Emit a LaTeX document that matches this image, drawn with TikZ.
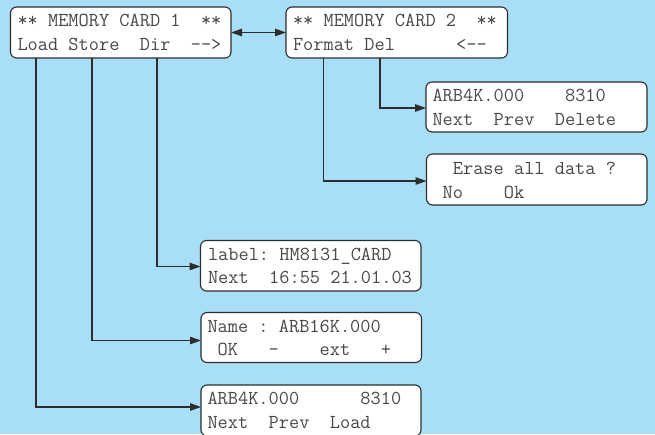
\documentclass[tikz,border=0pt]{standalone}
\usetikzlibrary{arrows.meta}
\definecolor{bgblue}{RGB}{168,222,248}
\definecolor{linecol}{RGB}{45,45,45}
\definecolor{txtcol}{RGB}{72,72,72}
\newcommand{\hy}{-\kern0pt}
\tikzset{
  box/.style={draw=linecol, line width=1.1pt, fill=white, rounded corners=6pt,
    inner sep=0pt, outer sep=0pt, anchor=north west, minimum width=220.5pt, minimum height=51pt},
  txt/.style={anchor=base west, inner sep=0pt, outer sep=0pt, text=txtcol,
    font=\fontsize{19.8}{23.3}\selectfont\ttfamily\frenchspacing},
  conn/.style={draw=linecol, line width=1.2pt, -{Triangle[length=11pt,width=7.5pt]}},
  dconn/.style={draw=linecol, line width=1.2pt, {Triangle[length=11pt,width=7.5pt]}-{Triangle[length=11pt,width=7.5pt]}}
}
\begin{document}
\begin{tikzpicture}[x=1pt,y=-1pt]
\clip (0,0) rectangle (655,434);
\fill[bgblue] (0,0) rectangle (655,434);
% boxes
\node[box] (b1) at (10.5,7) {};
\node[box, minimum width=221.5pt] (b2) at (286,7) {};
\node[box, minimum width=221pt, minimum height=50pt] (b3) at (426,82) {};
\node[box, minimum width=220.5pt] (b4) at (426.5,154) {};
\node[box, minimum width=220.5pt, minimum height=50.5pt] (b5) at (200.5,240.5) {};
\node[box, minimum height=50pt] (b6) at (201,312.5) {};
\node[box, minimum width=220pt] (b7) at (201,385) {};
% texts
\node[txt] (t1a) at ([xshift=7pt,yshift=-19.7pt]b1.north west) {**~MEMORY~CARD~1~~**};
\node[txt] (t1b) at ([xshift=7pt,yshift=-43pt]b1.north west) {Load~Store~~Dir~~\hy\hy>};
\node[txt] (t2a) at ([xshift=7pt,yshift=-19.7pt]b2.north west) {**~MEMORY~CARD~2~~**};
\node[txt] (t2b) at ([xshift=7pt,yshift=-43pt]b2.north west) {Format~Del~~~~~~<\hy\hy};
\node[txt] (t3a) at ([xshift=6.5pt,yshift=-19.7pt]b3.north west) {ARB4K.000~~~~8310};
\node[txt] (t3b) at ([xshift=6.5pt,yshift=-43pt]b3.north west) {Next~~Prev~~Delete};
\node[txt] (t4a) at ([xshift=6pt,yshift=-20.5pt]b4.north west) {~~Erase~all~data~?};
\node[txt] (t4b) at ([xshift=6pt,yshift=-44pt]b4.north west) {~No~~~~Ok};
\node[txt] (t5a) at ([xshift=7.5pt,yshift=-19.7pt]b5.north west) {label:~HM8131\_CARD};
\node[txt] (t5b) at ([xshift=7.5pt,yshift=-43pt]b5.north west) {Next~~16:55~21.01.03};
\node[txt] (t6a) at ([xshift=6.5pt,yshift=-19.7pt]b6.north west) {Name~:~ARB16K.000};
\node[txt] (t6b) at ([xshift=6.5pt,yshift=-43pt]b6.north west) {~OK~~~\hy~~~~ext~~~+};
\node[txt] (t7a) at ([xshift=6.5pt,yshift=-19.7pt]b7.north west) {ARB4K.000~~~~~~8310};
\node[txt] (t7b) at ([xshift=6.5pt,yshift=-43pt]b7.north west) {Next~~Prev~~Load};
% connectors
\draw[dconn] ([yshift=-25.5pt]b1.north east) -- ([yshift=-25.5pt]b2.north west);
\draw[conn] ([xshift=25.5pt]b1.south west) |- ([yshift=-22pt]b7.north west);
\draw[conn] ([xshift=81.5pt]b1.south west) |- ([yshift=-28pt]b6.north west);
\draw[conn] ([xshift=146.5pt]b1.south west) |- ([yshift=-26pt]b5.north west);
\draw[conn] ([xshift=37.5pt]b2.south west) |- ([yshift=-27pt]b4.north west);
\draw[conn] ([xshift=94pt]b2.south west) |- ([yshift=-26pt]b3.north west);
\end{tikzpicture}
\end{document}
